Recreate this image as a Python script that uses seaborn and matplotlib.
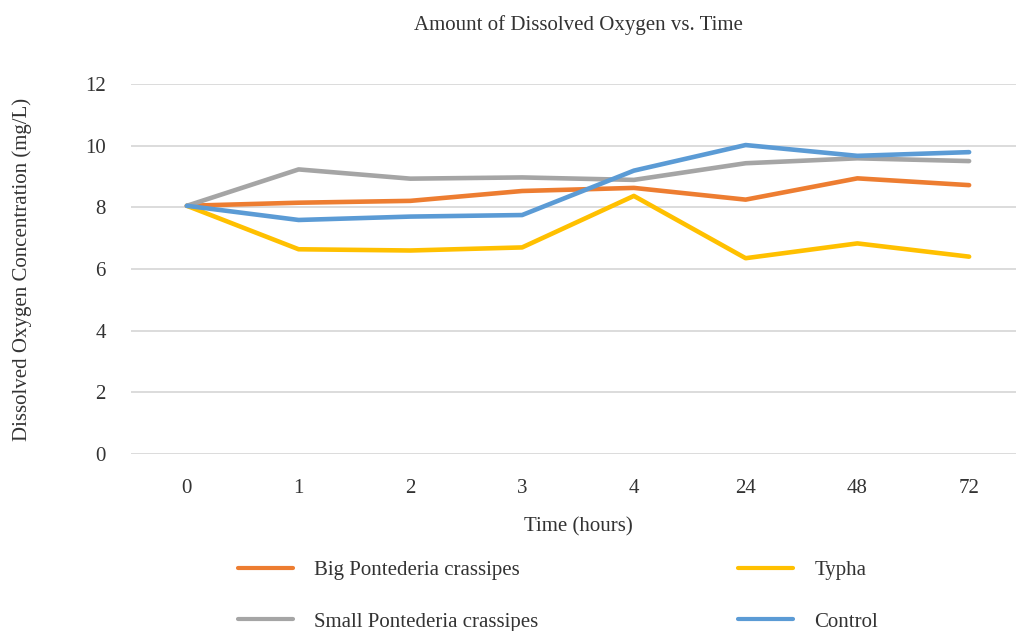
import pandas as pd
import matplotlib
matplotlib.use('Agg')
import matplotlib.pyplot as plt
import seaborn as sns
from matplotlib.lines import Line2D

# 데이터
hours = ['0', '1', '2', '3', '4', '24', '48', '72']
big_pc = [8.05, 8.15, 8.21, 8.53, 8.63, 8.25, 8.94, 8.72]
small_pc = [8.05, 9.23, 8.93, 8.97, 8.89, 9.43, 9.59, 9.50]
typha = [8.05, 6.64, 6.60, 6.70, 8.37, 6.35, 6.83, 6.40]
control = [8.05, 7.59, 7.70, 7.75, 9.19, 10.02, 9.67, 9.79]

series = {
    'Big Pontederia crassipes': big_pc,
    'Typha': typha,
    'Small Pontederia crassipes': small_pc,
    'Control': control,
}
colors = {
    'Big Pontederia crassipes': '#ED7D31',
    'Small Pontederia crassipes': '#A5A5A5',
    'Typha': '#FFC000',
    'Control': '#5B9BD5',
}

rows = []
for name, vals in series.items():
    for h, v in zip(hours, vals):
        rows.append({'Time': h, 'DO': v, 'Series': name})
df = pd.DataFrame(rows)

sns.set_style('white')
plt.rcParams['font.family'] = ['Liberation Serif', 'DejaVu Serif']
txt_color = '#333333'

fig = plt.figure(figsize=(10.16, 6.31), dpi=100)
ax = fig.add_axes([131 / 1016, 177 / 631, 894 / 1016, 370 / 631])

sns.lineplot(data=df, x='Time', y='DO', hue='Series', hue_order=list(series.keys()),
             palette=colors, linewidth=3.3, sort=False, ax=ax, legend=False,
             solid_capstyle='round')

ax.set_xlim(-0.5, len(hours) - 0.5)
ax.set_ylim(0, 12)
ax.set_yticks([0, 2, 4, 6, 8, 10, 12])
ax.grid(axis='y', color='#D9D9D9', linewidth=1.3)
ax.set_axisbelow(True)
for s in ax.spines.values():
    s.set_visible(False)
ax.tick_params(axis='both', length=0, labelsize=15, colors=txt_color)
ax.tick_params(axis='y', pad=18)
ax.tick_params(axis='x', pad=18)

ax.set_xlabel('Time (hours)', fontsize=15, color=txt_color, labelpad=14)
ax.set_ylabel('Dissolved Oxygen Concentration (mg/L)', fontsize=15, color=txt_color, labelpad=38)
fig.text(578 / 1016, 1 - 25 / 631, 'Amount of Dissolved Oxygen vs. Time', ha='center', va='center',
         fontsize=15, color=txt_color)

order = ['Big Pontederia crassipes', 'Small Pontederia crassipes', 'Typha', 'Control']
handles = [Line2D([0], [0], color=colors[n], linewidth=3) for n in order]
leg = fig.legend(handles, order, ncol=2, loc='center', bbox_to_anchor=(558 / 1016, 1 - 596 / 631),
                 frameon=False, fontsize=15, handlelength=2.65, handletextpad=1.0,
                 columnspacing=9.6, labelspacing=1.55)
for t in leg.get_texts():
    t.set_color(txt_color)

fig.savefig('out.png', dpi=100)
